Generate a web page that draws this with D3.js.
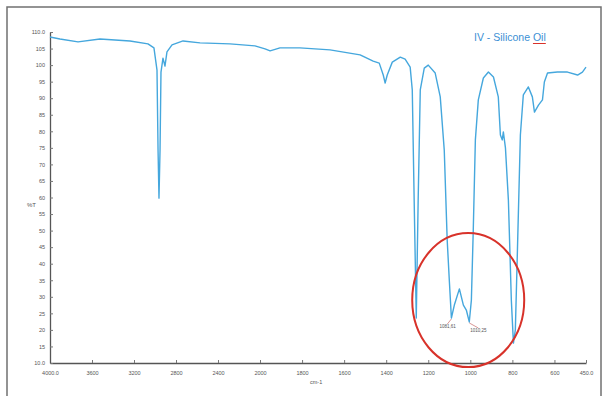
<!DOCTYPE html>
<html>
<head>
<meta charset="utf-8">
<script src="https://cdn.jsdelivr.net/npm/d3@7/dist/d3.min.js"></script>
<style>
  body { margin: 0; background: #fff; }
  svg { display: block; font-family: "Liberation Sans", Arial, sans-serif; }
</style>
</head>
<body>
<svg id="chart" width="605" height="396"></svg>
<script>
// spectrum: wavenumber (cm-1) and %T
const wavenumber = [4000, 3905, 3733, 3524, 3238, 3067, 3010, 2981, 2971, 2962, 2952, 2943, 2924, 2905, 2886, 2838, 2733, 2571, 2286, 2048,
  1976, 1952, 1905, 1810, 1667, 1524, 1462, 1433, 1414, 1405, 1395, 1371, 1333, 1310, 1286, 1276, 1267, 1257, 1248, 1238,
  1219, 1200, 1167, 1143, 1124, 1110, 1100, 1090, 1076, 1052, 1033, 1019, 1005, 995, 986, 976, 962, 938, 914, 890,
  867, 857, 848, 843, 833, 819, 805, 795, 786, 776, 762, 748, 724, 705, 695, 676, 657, 648, 633, 586, 538, 490, 467, 450];
const transmittance = [108.5, 107.9, 107.0, 107.9, 107.3, 106.4, 105.2, 98.5, 74.4, 59.8, 74.4, 97.9, 102.1, 99.7, 104.0, 106.1, 107.3, 106.7, 106.4, 105.8,
  104.9, 104.3, 105.2, 105.2, 104.6, 103.1, 101.2, 100.6, 97.0, 94.6, 97.0, 100.9, 102.4, 101.8, 99.4, 92.5, 59.2, 23.6, 59.2, 92.5,
  99.1, 100.0, 97.6, 90.4, 74.4, 47.2, 35.1, 23.6, 27.5, 32.4, 27.5, 26.0, 22.4, 29.0, 50.2, 77.4, 89.5, 96.1, 97.9, 96.4,
  90.4, 78.9, 77.4, 79.8, 75.0, 59.2, 29.0, 16.0, 20.0, 44.1, 78.9, 91.0, 93.4, 90.4, 85.8, 87.9, 89.5, 94.9, 97.6, 97.9, 97.9, 97.0, 97.9, 99.4];

const xTicks = [4000, 3600, 3200, 2800, 2400, 2000, 1800, 1600, 1400, 1200, 1000, 800, 600, 450];
const yTicks = [10, 15, 20, 25, 30, 35, 40, 45, 50, 55, 60, 65, 70, 75, 80, 85, 90, 95, 100, 105, 110];

const peakWave = [1090, 1005];
const peakValue = [23.6, 22.4];
const peakText = ["1081,61", "1010,25"];

const svg = d3.select('#chart');

// outer frame
svg.append('rect')
  .attr('x', 7).attr('y', 7).attr('width', 594).attr('height', 400)
  .attr('fill', 'none').attr('stroke', '#707070').attr('stroke-width', 1.5);

// x axis has the usual break at 2000 cm-1
const x = d3.scaleLinear().domain([4000, 2000, 450]).range([50, 260, 586]);
const y = d3.scaleLinear().domain([10, 110]).range([363, 32]);

const fmtEnd = d => d.toFixed(1);

const xAxis = svg.append('g')
  .attr('transform', 'translate(0,363)')
  .call(d3.axisBottom(x).tickValues(xTicks).tickSizeInner(-3).tickSizeOuter(0).tickPadding(8)
    .tickFormat(d => (d === 4000 || d === 450) ? fmtEnd(d) : d));

const yAxis = svg.append('g')
  .attr('transform', 'translate(50,0)')
  .call(d3.axisLeft(y).tickValues(yTicks).tickSizeInner(-3).tickSizeOuter(0).tickPadding(5)
    .tickFormat(d => (d === 10 || d === 110) ? fmtEnd(d) : d));

[xAxis, yAxis].forEach(g => {
  g.select('.domain').attr('stroke', '#555').attr('stroke-width', 1.3);
  g.selectAll('.tick line').attr('stroke', '#777');
  g.selectAll('.tick text').attr('fill', '#555').attr('font-size', 5.5);
});

svg.append('text').attr('x', 27).attr('y', 207).attr('font-size', 6).attr('fill', '#555').text('%T');
svg.append('text').attr('x', 310).attr('y', 384).attr('font-size', 5.5).attr('fill', '#555').text('cm-1');

// spectrum
const pts = wavenumber.map((w, i) => [w, transmittance[i]]);
const line = d3.line()
  .x(d => x(d[0]))
  .y(d => y(d[1]));
svg.append('path')
  .datum(pts)
  .attr('fill', 'none')
  .attr('stroke', '#45a7dd')
  .attr('stroke-width', 1.4)
  .attr('stroke-linejoin', 'round')
  .attr('d', line);

// peak labels with small leaders
peakWave.forEach((w, i) => {
  const px = x(w), py = y(peakValue[i]);
  const tx = i === 0 ? px - 12 : px + 1, ty = py + 10;
  svg.append('line')
    .attr('x1', px).attr('y1', py + 1).attr('x2', tx + 8).attr('y2', ty - 4)
    .attr('stroke', '#c0504d').attr('stroke-width', 0.6);
  svg.append('text')
    .attr('x', tx).attr('y', ty)
    .attr('font-size', 4.5).attr('fill', '#555')
    .text(peakText[i]);
});

// red circle round the 1000-1100 band
svg.append('ellipse')
  .attr('cx', x(1010)).attr('cy', y(29))
  .attr('rx', 56).attr('ry', 67)
  .attr('fill', 'none').attr('stroke', '#d8322a').attr('stroke-width', 2);

// title, with the red spell-check mark under "Oil"
const titleText = 'IV - Silicone Oil';
const title = svg.append('text')
  .attr('x', 474).attr('y', 41)
  .attr('font-size', 10.5).attr('fill', '#3b8fd4')
  .text(titleText);
const node = title.node();
const oilStart = titleText.indexOf('Oil');
const ux = 474 + node.getSubStringLength(0, oilStart);
const uw = node.getSubStringLength(oilStart, 3);
svg.append('line')
  .attr('x1', ux).attr('x2', ux + uw).attr('y1', 43.5).attr('y2', 43.5)
  .attr('stroke', '#d8322a').attr('stroke-width', 1);
</script>
</body>
</html>
